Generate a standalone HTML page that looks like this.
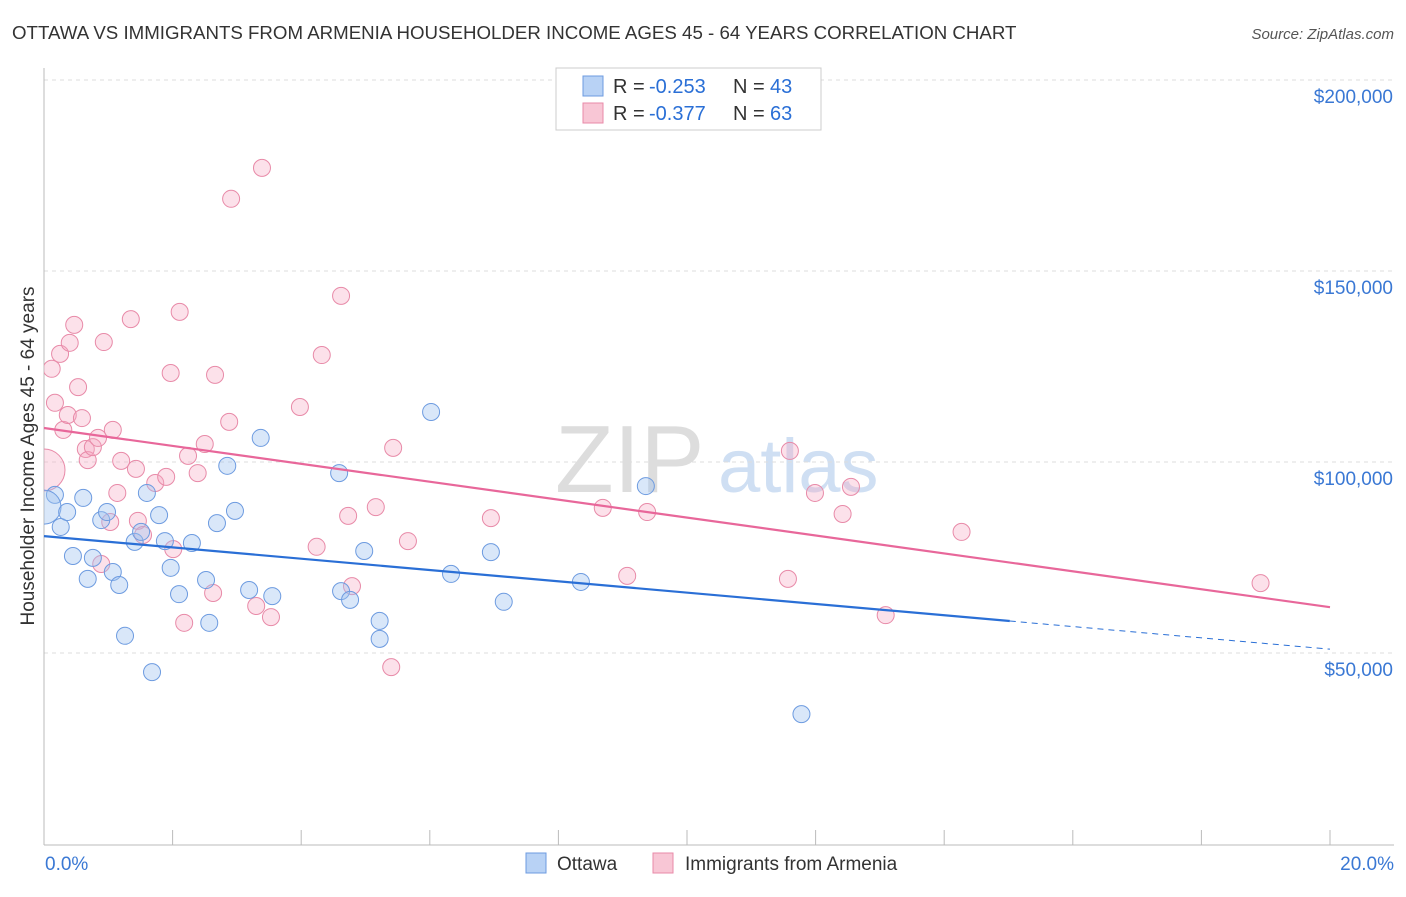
<!DOCTYPE html>
<html><head><meta charset="utf-8"><style>
body{margin:0;background:#fff;font-family:"Liberation Sans",sans-serif;}
svg text{font-family:"Liberation Sans",sans-serif;}
</style></head><body>
<svg id="chart" width="1406" height="892" xmlns="http://www.w3.org/2000/svg">
<defs><clipPath id="plotclip"><rect x="44" y="60" width="1360" height="785"/></clipPath></defs>
<text x="12" y="39" font-size="18.7" fill="#333">OTTAWA VS IMMIGRANTS FROM ARMENIA HOUSEHOLDER INCOME AGES 45 - 64 YEARS CORRELATION CHART</text>
<text x="1394" y="39" font-size="15" fill="#555" text-anchor="end" font-style="italic">Source: ZipAtlas.com</text>
<g><text x="555" y="492" font-size="96" fill="#ddd" font-family="Liberation Serif">ZIP</text><text x="718" y="492" font-size="76" fill="#cfdff3">atlas</text></g>
<text transform="translate(34,456) rotate(-90)" font-size="19" fill="#333" text-anchor="middle">Householder Income Ages 45 - 64 years</text>
<g id="grid"></g><g id="axes"></g><g id="pts" clip-path="url(#plotclip)"></g><g id="lines"></g>
<g>
<rect x="556" y="68" width="265" height="62" fill="#fff" stroke="#ccc"/>
<rect x="583" y="76" width="20" height="20" fill="#b8d2f5" stroke="#6d9be0"/>
<text x="613" y="93" font-size="20" fill="#333">R =</text><text x="649" y="93" font-size="20" fill="#2a6fd6">-0.253</text><text x="733" y="93" font-size="20" fill="#333">N =</text><text x="770" y="93" font-size="20" fill="#2a6fd6">43</text>
<rect x="583" y="103" width="20" height="20" fill="#f8c6d5" stroke="#e88aa8"/>
<text x="613" y="120" font-size="20" fill="#333">R =</text><text x="649" y="120" font-size="20" fill="#2a6fd6">-0.377</text><text x="733" y="120" font-size="20" fill="#333">N =</text><text x="770" y="120" font-size="20" fill="#2a6fd6">63</text>
</g>
<g>
<rect x="526" y="853" width="20" height="20" fill="#b8d2f5" stroke="#6d9be0"/>
<text x="557" y="870" font-size="19" fill="#333">Ottawa</text>
<rect x="653" y="853" width="20" height="20" fill="#f8c6d5" stroke="#e88aa8"/>
<text x="685" y="870" font-size="19" fill="#333">Immigrants from Armenia</text>
</g>
</svg>
<script>
const yTicks=[50000,100000,150000,200000];
const yTickLabels=["$50,000","$100,000","$150,000","$200,000"];
const xTickLabels=["0.0%","20.0%"];
const ottawaX=[0.17,0,0.26,0.36,0.45,0.61,0.68,0.76,0.89,0.98,1.07,1.17,1.26,1.41,1.51,1.60,1.68,1.79,1.88,1.97,2.10,2.30,2.52,2.57,2.69,2.85,2.97,3.19,3.37,3.55,4.59,4.62,4.76,4.98,5.22,5.22,6.02,6.33,6.95,7.15,8.35,9.36,11.78];
const ottawaY=[91.4,88.2,83.0,86.9,75.4,90.6,69.4,74.9,84.8,86.9,71.2,67.8,54.5,79.1,81.7,91.9,45.0,86.1,79.3,72.3,65.4,78.8,69.1,57.9,84.0,99.0,87.2,66.5,106.3,64.9,97.1,66.2,63.9,76.7,58.4,53.7,113.1,70.7,76.4,63.4,68.6,93.7,34.0];
const armX=[0,0.12,0.17,0.25,0.30,0.37,0.40,0.47,0.53,0.59,0.65,0.68,0.76,0.84,0.89,0.93,1.03,1.07,1.14,1.20,1.35,1.43,1.46,1.54,1.73,1.90,1.97,2.01,2.11,2.18,2.24,2.39,2.50,2.63,2.66,2.88,2.91,3.30,3.39,3.53,3.98,4.24,4.32,4.62,4.73,4.79,5.16,5.40,5.43,5.66,6.95,8.69,9.07,9.38,11.57,11.60,11.99,12.42,12.55,13.09,14.27,18.92];
const armY=[97.9,124.4,115.5,128.3,108.4,112.3,131.2,135.9,119.6,111.5,103.4,100.5,103.9,106.3,73.3,131.4,84.3,108.4,91.9,100.3,137.4,98.2,84.6,80.9,94.5,96.1,123.3,77.2,139.3,57.9,101.6,97.1,104.7,65.7,122.8,110.5,168.9,62.3,177.0,59.4,114.4,77.8,128.0,143.5,85.9,67.5,88.2,46.3,103.7,79.3,85.3,88.0,70.2,86.9,69.4,102.9,91.9,86.4,93.5,59.9,81.7,68.3];
const ottawaTrend=[80.6,51.0];
const armTrend=[108.9,62.0];
const NS="http://www.w3.org/2000/svg";
const X=p=>44+p*64.3;
const Y=v=>653-(v-50000)*191/50000;
const Yk=k=>Y(k*1000);
function mk(t,a,parent){const e=document.createElementNS(NS,t);for(const k in a)e.setAttribute(k,a[k]);document.getElementById(parent).appendChild(e);return e;}
yTicks.forEach((t,i)=>{
 const l=mk('line',{x1:44,x2:1394,y1:Y(t),y2:Y(t),stroke:'#ddd','stroke-dasharray':'4,4'},'grid');
 
 
 const tx=mk('text',{x:1393,y:Y(t)+23,'font-size':19,fill:'#3a78d4','text-anchor':'end'},'axes');
 tx.textContent=yTickLabels[i];
 
 
});
const ax=mk('line',{x1:44,x2:44,y1:68,y2:845,stroke:'#bbb'},'axes');


const bx=mk('line',{x1:44,x2:1394,y1:845,y2:845,stroke:'#bbb'},'axes');


for(let i=0;i<=10;i++){const t=mk('line',{x1:X(i*2),x2:X(i*2),y1:830,y2:845,stroke:'#bbb'},'axes');
 
 }
[[0,'start',45],[20,'end',1394]].forEach((d,i)=>{const t=mk('text',{x:d[2],y:870,'font-size':19,fill:'#3a78d4','text-anchor':d[1]},'axes');t.textContent=xTickLabels[i];
 
 });
armX.forEach((x,i)=>{const c=mk('circle',{cx:X(x),cy:Yk(armY[i]),r:i==0?21:8.5,fill:'rgba(245,170,195,0.35)',stroke:'#e88aa8','stroke-width':1},'pts');
 
 });
ottawaX.forEach((x,i)=>{const c=mk('circle',{cx:X(x),cy:Yk(ottawaY[i]),r:i==1?17:8.5,fill:'rgba(160,195,240,0.4)',stroke:'#6d9be0','stroke-width':1},'pts');
 
 });
const at=p=>ottawaTrend[0]+(ottawaTrend[1]-ottawaTrend[0])*p/20;
let l1=mk('line',{x1:X(0),y1:Yk(at(0)),x2:X(15.02),y2:Yk(at(15.02)),stroke:'#2a6fd6','stroke-width':2.2},'lines');


let l2=mk('line',{x1:X(15.02),y1:Yk(at(15.02)),x2:X(20),y2:Yk(at(20)),stroke:'#2a6fd6','stroke-width':1,'stroke-dasharray':'6,5'},'lines');


let l3=mk('line',{x1:X(0),y1:Yk(armTrend[0]),x2:X(20),y2:Yk(armTrend[1]),stroke:'#e8679a','stroke-width':2.2},'lines');


</script>
</body></html>
